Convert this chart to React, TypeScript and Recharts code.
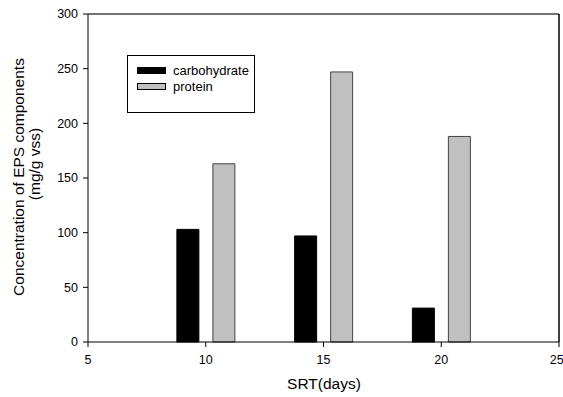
import { ComposedChart, Bar, XAxis, YAxis, ReferenceLine } from 'recharts';

// SRT in days (mg/g vss)
const srt = [10, 15, 20];
const carbohydrate = [103, 97, 31];
const protein = [163, 247, 188];
const xTicks = [5, 10, 15, 20, 25];
const yTicks = [0, 50, 100, 150, 200, 250, 300];

const series = [
  { key: 'carbohydrate', fill: '#000000', stroke: '#000' },
  { key: 'protein', fill: '#c0c0c0', stroke: '#444' },
];

const data = srt.map((d, i) => ({ srt: d, carbohydrate: carbohydrate[i], protein: protein[i] }));

const font = 'Arial, "Liberation Sans", sans-serif';

function LegendBox() {
  return (
    <div
      style={{
        position: 'absolute',
        left: 127,
        top: 55,
        width: 128,
        height: 58,
        border: '1px solid #000',
        boxSizing: 'border-box',
        background: '#fff',
        padding: '6px 0 0 9px',
        fontFamily: font,
        fontSize: 13,
      }}
    >
      {series.map((it) => (
        <div key={it.key} style={{ display: 'flex', alignItems: 'center', height: 16 }}>
          <span
            style={{
              display: 'inline-block',
              width: 29,
              height: 7,
              background: it.fill,
              border: '1px solid #000',
              boxSizing: 'border-box',
              marginRight: 7,
            }}
          />
          <span>{it.key}</span>
        </div>
      ))}
    </div>
  );
}

function YLabel() {
  return (
    <g fontFamily={font} fontSize={15.5} fill="#000" textAnchor="middle">
      <text transform="translate(24, 177) rotate(-90)">Concentration of EPS components</text>
      <text transform="translate(40, 164) rotate(-90)">(mg/g vss)</text>
    </g>
  );
}

function XLabel() {
  return (
    <text x={324} y={389} fontFamily={font} fontSize={15.5} fill="#000" textAnchor="middle">
      SRT(days)
    </text>
  );
}

export default function App() {
  return (
    <div style={{ position: 'absolute', left: 0, top: 0, width: 563, height: 397, background: '#fff' }}>
      <ComposedChart
        width={563}
        height={397}
        data={data}
        margin={{ top: 14, right: 4, bottom: 25, left: 28 }}
        barGap={14}
      >
        <XAxis
          type="number"
          dataKey="srt"
          domain={[5, 25]}
          ticks={xTicks}
          height={30}
          allowDataOverflow
          stroke="#000"
          tickSize={5}
          tick={{ fill: '#000', fontSize: 12.5, fontFamily: font }}
          tickMargin={8}
          label={<XLabel />}
        />
        <YAxis
          domain={[0, 300]}
          ticks={yTicks}
          width={60}
          stroke="#000"
          tickSize={5}
          tick={{ fill: '#000', fontSize: 12.5, fontFamily: font }}
          tickMargin={5}
          label={<YLabel />}
        />
        <ReferenceLine y={300} stroke="#444" strokeWidth={1.5} />
        <ReferenceLine x={25} stroke="#000" strokeWidth={1.5} />
        {series.map((s) => (
          <Bar
            key={s.key}
            dataKey={s.key}
            name={s.key}
            fill={s.fill}
            stroke={s.stroke}
            barSize={22}
            isAnimationActive={false}
          />
        ))}
      </ComposedChart>
      <LegendBox />
    </div>
  );
}
